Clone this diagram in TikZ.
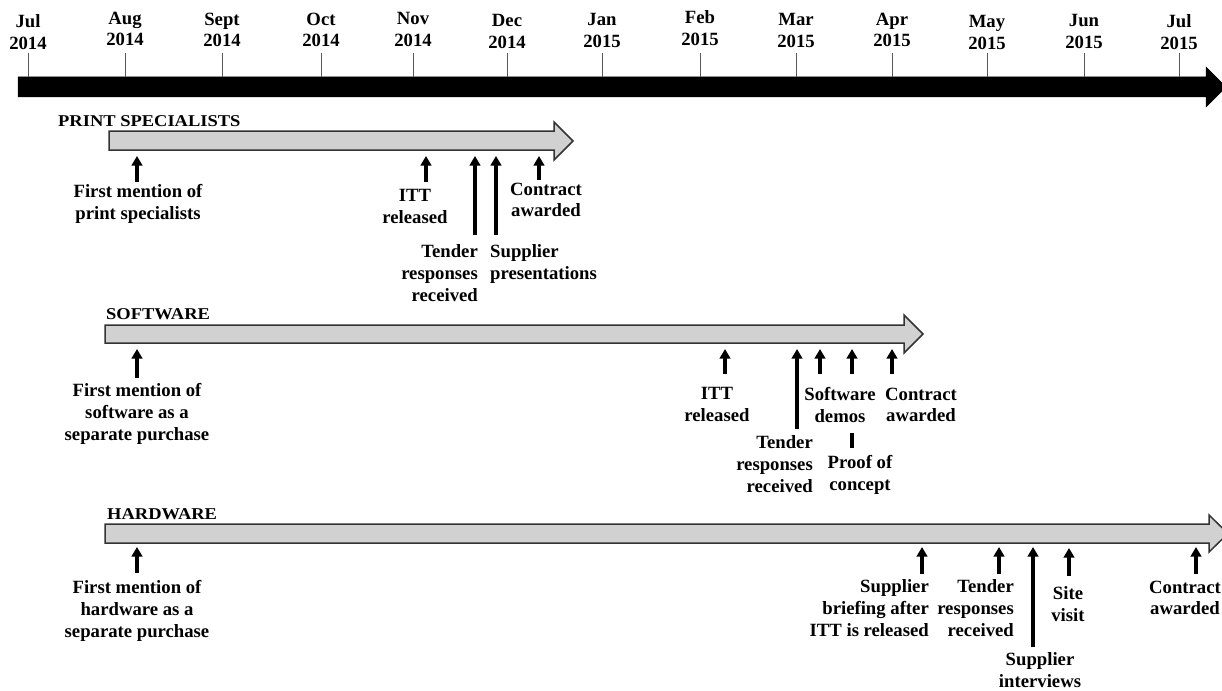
\documentclass[tikz,border=0pt]{standalone}
\usepackage{fontspec}
\setmainfont{Liberation Serif}
\newfontfamily\headfont[FakeStretch=1.12]{Liberation Serif}
\usetikzlibrary{arrows.meta}

\tikzset{
  lbl/.style={font=\fontsize{18.7}{21.7}\selectfont\bfseries, inner sep=0pt, align=center, anchor=north},
  lblr/.style={lbl, align=right, anchor=north east},
  lbll/.style={lbl, align=left, anchor=north west},
  head/.style={font=\headfont\fontsize{16.5}{19}\selectfont\bfseries, inner sep=0pt, anchor=base west},
  tick/.style={draw=black!65, line width=0.9pt},
  axis/.style={fill=black, draw=black, line width=0.5pt},
  phase/.style={fill=black!18, draw=black!80, line width=1.5pt, line join=miter},
  marker/.style={line width=3.6pt, -{Triangle[length=9.5pt,width=10.5pt]}},
  plain/.style={line width=3.6pt},
}

\begin{document}
\begin{tikzpicture}[x=1pt,y=-1pt]
\useasboundingbox (0,0) rectangle (1222,690);

% main time axis
\draw[axis] (18,77) -- (1206,77) -- (1206,67) -- (1226,87) -- (1206,107) -- (1206,97) -- (18,97) -- cycle;

% month ticks and labels: name / x / first baseline / month / year
\foreach \n/\x/\b/\m/\yr in {
  m1/28/27/Jul/2014, m2/125/24/Aug/2014, m3/222/25/Sept/2014, m4/321/25/Oct/2014,
  m5/413/25/Nov/2014, m6/507/27/Dec/2014, m7/602/26/Jan/2015, m8/700/23/Feb/2015,
  m9/796/26/Mar/2015, m10/892/25/Apr/2015, m11/987/28/May/2015, m12/1084/27/Jun/2015,
  m13/1179/27/Jul/2015}{
  \node[lbl] (\n) at (\x,\b-12.5) {\m\\\yr};
  \coordinate (\n-t) at (\x,53);
  \coordinate (\n-a) at (\x,77);
  \draw[tick] (\n-t) -- (\n-a);
}

% phase arrows
\draw[phase] (109,131) -- (554,131) -- (554,122) -- (573,141) -- (554,160) -- (554,150) -- (109,150) -- cycle;
\draw[phase] (105,325) -- (904,325) -- (904,315) -- (923,334) -- (904,353) -- (904,343) -- (105,343) -- cycle;
\draw[phase] (105,524) -- (1209,524) -- (1209,515) -- (1228,533.5) -- (1209,552) -- (1209,543) -- (105,543) -- cycle;

\node[head] (hprint) at (58,126) {PRINT SPECIALISTS};
\node[head] (hsoft) at (106,319) {SOFTWARE};
\node[head] (hhard) at (107,519) {HARDWARE};

% event markers: name / x / tip / foot
\foreach \n/\x/\t/\b in {
  pa/137/156/182, pb/426/156/182, pc/475/156/235, pd/496/156/235, pe/539/156/180,
  sa/137/349/378, sb/725/349/374, sc/797/349/429, sd/820/349/374, se/852/349/374, sf/892/349/374,
  ha/137/547/573, hb/922/547/574, hc/999/547/574, hd/1033/547/647, he/1069/548/576, hf/1196/547/574}{
  \coordinate (\n-top) at (\x,\t);
  \coordinate (\n-bot) at (\x,\b);
  \draw[marker] (\n-bot) -- (\n-top);
}

% proof of concept bar
\coordinate (poc-top) at (852,433);
\coordinate (poc-bot) at (852,448);
\draw[plain] (poc-top) -- (poc-bot);

% print specialists labels
\node[lbl] (pla) at (138,197-12.5) {First mention of\\print specialists};
\node[lbl] (plb) at (415,202-12.5) {ITT\\released};
\node[lblr] (plc) at (478,257-12.5) {Tender\\responses\\received};
\node[lbll] (pld) at (490,257-12.5) {Supplier\\presentations};
\node[lbl] (ple) at (546,195-12.5) {Contract\\awarded};

% software labels
\node[lbl] (sla) at (137,396-12.5) {First mention of\\software as a\\separate purchase};
\node[lbl] (slb) at (717,400-12.5) {ITT\\released};
\node[lblr] (slc) at (813,448-12.5) {Tender\\responses\\received};
\node[lbl] (sld) at (840,400-12.5) {Software\\demos};
\node[lbl] (sle) at (921,400-12.5) {Contract\\awarded};
\node[lbl] (slf) at (860,468-12.5) {Proof of\\concept};

% hardware labels
\node[lbl] (hla) at (137,593-12.5) {First mention of\\hardware as a\\separate purchase};
\node[lblr] (hlb) at (929,592-12.5) {Supplier\\briefing after\\ITT is released};
\node[lblr] (hlc) at (1014,592-12.5) {Tender\\responses\\received};
\node[lbl] (hld) at (1068,599-12.5) {Site\\visit};
\node[lbl] (hle) at (1040,665-12.5) {Supplier\\interviews};
\node[lbl] (hlf) at (1185,593-12.5) {Contract\\awarded};
\end{tikzpicture}
\end{document}
